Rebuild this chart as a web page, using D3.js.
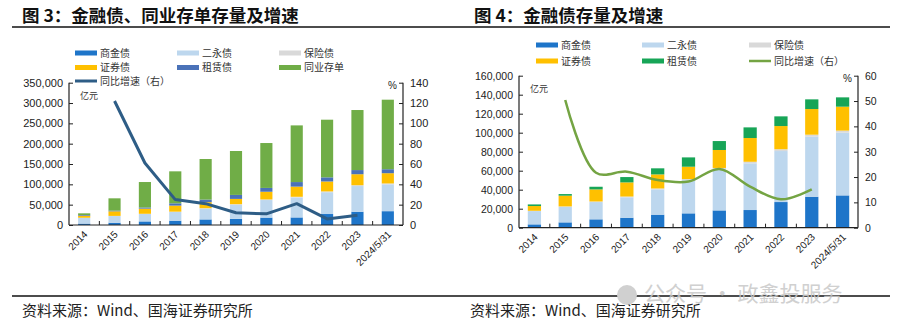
<!DOCTYPE html>
<html><head><meta charset="utf-8">
<script src="https://cdn.jsdelivr.net/npm/d3@7"></script>
<style>
html,body{margin:0;padding:0;background:#fff;}
svg{display:block;}
</style></head>
<body>
<svg id="c" width="906" height="334"></svg>
<script>
const categories = ["2014","2015","2016","2017","2018","2019","2020","2021","2022","2023","2024/5/31"];
const shangJin = [3500,5600,8800,10500,13700,15100,18200,18600,27000,32600,34000];
const erYong   = [14000,16400,18200,21500,26600,34900,43200,49100,53700,63200,66000];
const baoXian  = [300,400,600,800,1000,1200,1500,1700,1900,2100,2200];
const zhengQuan= [5000,11300,12700,14900,14800,13000,18900,25000,24400,27000,25200];
const zuLin    = [1700,1700,2800,5600,6400,9800,9400,11200,10200,10200,9800];
const tongYeCD = [4200,30200,62600,78700,99800,108000,110400,139400,141800,147700,171000];
const growthAll = [null,122,61,25,21,12,11,21,6,9.5,null];
const growthFin = [null,50.4,21.7,22.1,18.8,18.2,23.2,16.2,11.2,15.1,null];
const leftTicks3 = [0,50000,100000,150000,200000,250000,300000,350000];
const rightTicks3 = [0,20,40,60,80,100,120,140];
const leftTicks4 = [0,20000,40000,60000,80000,100000,120000,140000,160000];
const rightTicks4 = [0,10,20,30,40,50,60];

const svg = d3.select("#c");
const cjk = "'Noto Sans CJK SC', sans-serif";
const lat = "'Liberation Sans', Arial, sans-serif";
const fmt = d3.format(",");

// titles and rules
svg.append("text").attr("x",22).attr("y",22).attr("font-family",cjk).attr("font-weight","bold")
  .attr("font-size",17.5).attr("fill","#111").text("图 3：金融债、同业存单存量及增速");
svg.append("text").attr("x",474).attr("y",22).attr("font-family",cjk).attr("font-weight","bold")
  .attr("font-size",17.5).attr("fill","#111").text("图 4：金融债存量及增速");
svg.append("line").attr("x1",12).attr("x2",890).attr("y1",27).attr("y2",27).attr("stroke","#111").attr("stroke-width",1.3);
svg.append("line").attr("x1",12).attr("x2",890).attr("y1",296).attr("y2",296).attr("stroke","#111").attr("stroke-width",1.3);
svg.append("text").attr("x",22).attr("y",316).attr("font-family",cjk).attr("font-size",15).attr("fill","#222").text("资料来源：Wind、国海证券研究所");
svg.append("text").attr("x",470).attr("y",316).attr("font-family",cjk).attr("font-size",15).attr("fill","#222").text("资料来源：Wind、国海证券研究所");
// watermark
svg.append("circle").attr("cx",627).attr("cy",295).attr("r",10).attr("fill","#d0d0d0");
svg.append("text").attr("x",644).attr("y",301).attr("font-family",cjk).attr("font-size",21).attr("fill","#c8c8c8").attr("opacity",0.85).text("公众号 · 政鑫投服务");

function drawChart(opt){
  const g = svg.append("g");
  const x = d3.scaleBand().domain(categories).range([opt.x0,opt.x1]).paddingInner(opt.pad).paddingOuter(opt.pad/2);
  const yL = d3.scaleLinear().domain([0,opt.lMax]).range([opt.yb,opt.yt]);
  const yR = d3.scaleLinear().domain([0,opt.rMax]).range([opt.yb,opt.yt]);
  const keys = opt.series.map(s=>s.key);
  const rows = categories.map((c,i)=>{const o={cat:c}; opt.series.forEach(s=>o[s.key]=s.values[i]); return o;});
  const stack = d3.stack().keys(keys)(rows);
  g.selectAll("g.s").data(stack).join("g").attr("fill",(d,i)=>opt.series[i].color)
    .selectAll("rect").data(d=>d).join("rect")
    .attr("x",d=>x(d.data.cat)).attr("width",x.bandwidth())
    .attr("y",d=>yL(d[1])).attr("height",d=>Math.max(0,yL(d[0])-yL(d[1])));
  // axes
  const ax = g.append("g").attr("transform",`translate(${opt.x0},0)`)
    .call(d3.axisLeft(yL).tickValues(opt.lTicks).tickSize(-4).tickPadding(6).tickFormat(fmt));
  const axr = g.append("g").attr("transform",`translate(${opt.x1},0)`)
    .call(d3.axisRight(yR).tickValues(opt.rTicks).tickSize(-4).tickPadding(7));
  [ax,axr].forEach(a=>{
    a.select(".domain").attr("stroke","#222").attr("stroke-width",1.2).attr("d",`M0,${opt.yt}V${opt.yb}`);
    a.selectAll(".tick line").attr("stroke","#222");
    a.selectAll("text").attr("font-family",lat).attr("font-size",opt.fs).attr("fill","#222");
  });
  // x axis
  g.append("line").attr("x1",opt.x0).attr("x2",opt.x1).attr("y1",opt.yb).attr("y2",opt.yb).attr("stroke","#222").attr("stroke-width",1.2);
  const step = x.step();
  g.selectAll("line.xt").data(d3.range(1,categories.length)).join("line")
    .attr("x1",i=>opt.x0+i*step).attr("x2",i=>opt.x0+i*step)
    .attr("y1",opt.yb).attr("y2",opt.yb-4).attr("stroke","#222");
  g.selectAll("text.xl").data(categories).join("text")
    .attr("transform",d=>`translate(${x(d)+x.bandwidth()/2+4},${opt.yb+10}) rotate(-45)`)
    .attr("text-anchor","end").attr("font-family",lat).attr("font-size",10).attr("fill","#222").text(d=>d);
  // line
  const pts = categories.map((c,i)=>({c,v:opt.growth[i]})).filter(d=>d.v!=null);
  g.append("path").datum(pts).attr("fill","none").attr("stroke",opt.lineColor).attr("stroke-width",opt.lineW)
    .attr("stroke-linejoin","round")
    .attr("d",d3.line().x(d=>x(d.c)+x.bandwidth()/2).y(d=>yR(d.v)).curve(opt.curve));
  // unit labels
  g.append("text").attr("x",opt.x0+11).attr("y",opt.yt+16).attr("font-family",cjk).attr("font-size",9).attr("fill","#333").text("亿元");
  g.append("text").attr("x",opt.x1-6).attr("y",opt.yt+6).attr("text-anchor","end").attr("font-family",lat).attr("font-size",10).attr("fill","#222").text("%");
  // legend
  opt.legend.forEach(l=>{
    if(l.line){
      g.append("line").attr("x1",l.x).attr("x2",l.x+22).attr("y1",l.y).attr("y2",l.y).attr("stroke",l.color).attr("stroke-width",l.w||2.5);
    } else {
      g.append("rect").attr("x",l.x).attr("y",l.y-2.5).attr("width",22).attr("height",5).attr("fill",l.color);
    }
    g.append("text").attr("x",l.x+25).attr("y",l.y+3.5).attr("font-family",cjk).attr("font-size",10).attr("fill","#333").text(l.label);
  });
}

const cBlue="#1E75C9", cLight="#BDD7EE", cGrey="#D9D9D9", cYellow="#FFC000";
drawChart({
  x0:69,x1:403,yt:82.7,yb:225,pad:0.6,lMax:350000,rMax:140,lTicks:leftTicks3,rTicks:rightTicks3,fs:11,
  series:[{key:"商金债",values:shangJin,color:cBlue},{key:"二永债",values:erYong,color:cLight},
          {key:"保险债",values:baoXian,color:cGrey},{key:"证券债",values:zhengQuan,color:cYellow},
          {key:"租赁债",values:zuLin,color:"#4A72B8"},{key:"同业存单",values:tongYeCD,color:"#70AD47"}],
  growth:growthAll,lineColor:"#2E5D86",lineW:3,curve:d3.curveLinear,
  legend:[{x:75,y:53,color:cBlue,label:"商金债"},{x:177,y:53,color:cLight,label:"二永债"},{x:279,y:53,color:cGrey,label:"保险债"},
          {x:75,y:67.5,color:cYellow,label:"证券债"},{x:177,y:67.5,color:"#4A72B8",label:"租赁债"},{x:279,y:67.5,color:"#70AD47",label:"同业存单"},
          {x:75,y:81,color:"#2E5D86",label:"同比增速（右）",line:true,w:3}]
});
drawChart({
  x0:519,x1:858,yt:75.7,yb:227.7,pad:0.57,lMax:160000,rMax:60,lTicks:leftTicks4,rTicks:rightTicks4,fs:10.5,
  series:[{key:"商金债",values:shangJin,color:cBlue},{key:"二永债",values:erYong,color:cLight},
          {key:"保险债",values:baoXian,color:cGrey},{key:"证券债",values:zhengQuan,color:cYellow},
          {key:"租赁债",values:zuLin,color:"#17A557"}],
  growth:growthFin,lineColor:"#74A443",lineW:2.5,curve:d3.curveCatmullRom.alpha(0.5),
  legend:[{x:536,y:45,color:cBlue,label:"商金债"},{x:642,y:45,color:cLight,label:"二永债"},{x:749,y:45,color:cGrey,label:"保险债"},
          {x:536,y:61,color:cYellow,label:"证券债"},{x:642,y:61,color:"#17A557",label:"租赁债"},{x:749,y:61,color:"#74A443",label:"同比增速（右）",line:true,w:2.5}]
});
</script>
</body></html>
